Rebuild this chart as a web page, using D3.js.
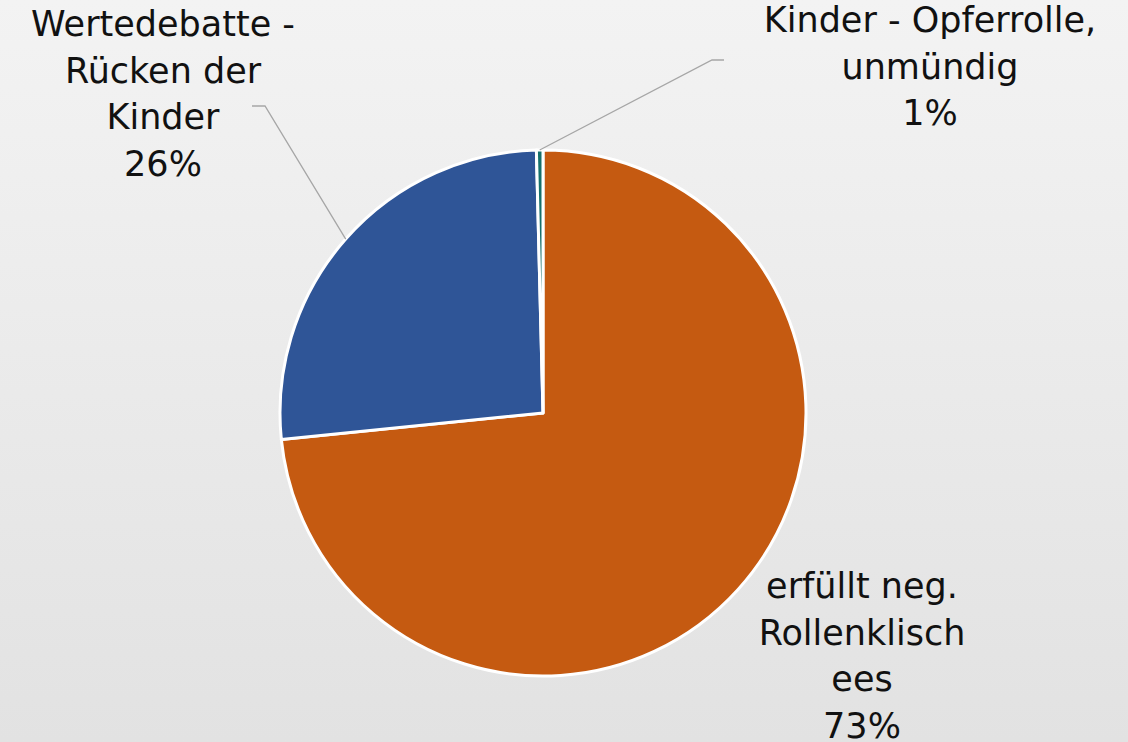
<!DOCTYPE html>
<html><head><meta charset="utf-8">
<script src="https://cdn.jsdelivr.net/npm/d3@7"></script>
<style>html,body{margin:0;padding:0;overflow:hidden}</style>
</head><body>
<svg id="c" width="1128" height="742"></svg>
<script>
// Data
const categories = ["erfüllt neg. Rollenklischees", "Wertedebatte - Rücken der Kinder", "Kinder - Opferrolle, unmündig"];
const values = [73.4, 26.2, 0.4];
const pctLabels = ["73%", "26%", "1%"];
const labelLines = [
  ["erfüllt neg.", "Rollenklisch", "ees", "73%"],
  ["Wertedebatte -", "Rücken der", "Kinder", "26%"],
  ["Kinder - Opferrolle,", "unmündig", "1%"]
];
const colors = ["#C55A11", "#2F5597", "#14706B"];

const W = 1128, H = 742;
const svg = d3.select("#c");
const defs = svg.append("defs");
const g = defs.append("linearGradient").attr("id","bg").attr("x1",0).attr("y1",0).attr("x2",0).attr("y2",1);
g.append("stop").attr("offset","0%").attr("stop-color","#f3f3f3");
g.append("stop").attr("offset","100%").attr("stop-color","#e2e2e2");
svg.append("rect").attr("width",W).attr("height",H).attr("fill","url(#bg)");

const cx = 543, cy = 413, R = 263;
const pie = d3.pie().sort(null).value(d => d)(values);
const arc = d3.arc().innerRadius(0).outerRadius(R);
const pg = svg.append("g").attr("transform",`translate(${cx},${cy})`);
pg.selectAll("path").data(pie).join("path")
  .attr("d", arc).attr("fill",(d,i)=>colors[i])
  .attr("stroke","#fff").attr("stroke-width",3).attr("stroke-linejoin","round");

// label layout (positions of text blocks)
const labelPos = [
  {x: 862, y: 598, leader: null},
  {x: 163, y: 36, leader: {ex: 252, ey: 106, hx: 265}},
  {x: 930, y: 32, leader: {ex: 724, ey: 60, hx: 712}}
];
const lineH = 46.5;
const font = "'DejaVu Sans', sans-serif";

pie.forEach((d,i) => {
  const lp = labelPos[i];
  if (lp.leader) {
    const a = (d.startAngle + d.endAngle)/2;
    const px = cx + R*Math.sin(a), py = cy - R*Math.cos(a);
    svg.append("path")
      .attr("d", `M${px},${py}L${lp.leader.hx},${lp.leader.ey}L${lp.leader.ex},${lp.leader.ey}`)
      .attr("fill","none").attr("stroke","#a6a6a6").attr("stroke-width",1.3);
  }
  const t = svg.append("text").attr("text-anchor","middle")
    .attr("font-family",font).attr("font-size",35).attr("fill","#111");
  labelLines[i].forEach((s,j) => {
    t.append("tspan").attr("x",lp.x).attr("y",lp.y + j*lineH).text(s);
  });
});
</script>
</body></html>
